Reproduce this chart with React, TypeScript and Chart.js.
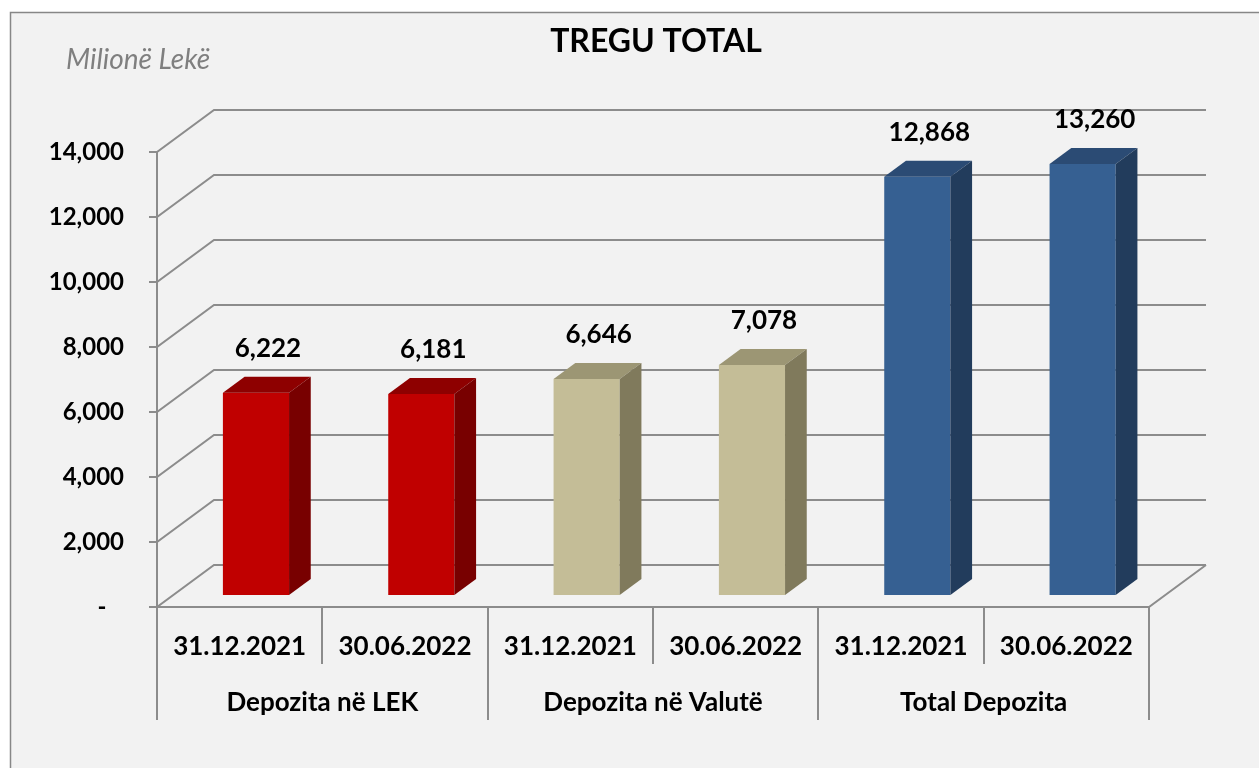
import React, { useEffect, useRef } from 'react';
import { Chart, registerables } from 'chart.js';

Chart.register(...registerables);

// ---- data ----
const CATEGORIES = ['31.12.2021', '30.06.2022', '31.12.2021', '30.06.2022', '31.12.2021', '30.06.2022'];
const GROUPS = ['Depozita në LEK', 'Depozita në Valutë', 'Total Depozita'];
const VALUES = [6222, 6181, 6646, 7078, 12868, 13260];
const Y_MIN = 0;
const Y_MAX = 14000;
const Y_STEP = 2000;
const TITLE = 'TREGU TOTAL';
const UNIT = 'Milionë Lekë';

// ---- styles ----
const FRONT = ['#c00000', '#c00000', '#c4bd97', '#c4bd97', '#366092', '#366092'];
const TOPC = ['#8e0000', '#8e0000', '#9c9674', '#9c9674', '#2b4b74', '#2b4b74'];
const SIDE = ['#780000', '#780000', '#807a5c', '#807a5c', '#223c5c', '#223c5c'];
const GRID = '#8c8c8c';
const FONT = 'Lato, "Open Sans", sans-serif';

const DX = 57; // wall depth x
const DY = 42; // wall depth y
const BAR_FRONT = 0.286;
const BAR_BACK = 0.667;

const fmt = (v: number) => v.toLocaleString('en-US');

const threeD = {
  id: 'threeD',
  beforeDraw(chart: any) {
    const { ctx, width, height } = chart;
    ctx.save();
    ctx.fillStyle = '#ffffff';
    ctx.fillRect(0, 0, width, height);
    ctx.fillStyle = '#f2f2f2';
    ctx.fillRect(10, 12, width + 20, height + 20);
    ctx.strokeStyle = '#878787';
    ctx.lineWidth = 1.5;
    ctx.strokeRect(10.5, 12.5, width + 20, height + 20);
    // title & unit
    ctx.fillStyle = '#000';
    ctx.font = `bold 32px ${FONT}`;
    ctx.textAlign = 'center';
    ctx.textBaseline = 'alphabetic';
    ctx.fillText(TITLE, 656, 52);
    ctx.fillStyle = '#7f7f7f';
    ctx.font = `italic 28px ${FONT}`;
    ctx.textAlign = 'left';
    ctx.fillText(UNIT, 66, 69);
    ctx.restore();
  },
  beforeDatasetsDraw(chart: any) {
    const { ctx, chartArea: a, scales } = chart;
    const x = scales.x;
    const y = scales.y;
    ctx.save();
    ctx.strokeStyle = GRID;
    ctx.lineWidth = 2;
    ctx.lineCap = 'butt';
    // back wall gridlines + side wall diagonals
    y.ticks.forEach((t: any) => {
      const py = Math.round(y.getPixelForValue(t.value));
      ctx.beginPath();
      ctx.moveTo(a.left - 8, py);
      ctx.lineTo(a.left, py);
      ctx.lineTo(a.left + DX, py - DY);
      ctx.lineTo(a.right + DX, py - DY);
      ctx.stroke();
    });
    // front vertical axis
    ctx.beginPath();
    ctx.moveTo(a.left, a.top);
    ctx.lineTo(a.left, a.bottom);
    ctx.stroke();
    // floor front edge + right diagonal
    ctx.beginPath();
    ctx.moveTo(a.left, a.bottom);
    ctx.lineTo(a.right, a.bottom);
    ctx.lineTo(a.right + DX, a.bottom - DY);
    ctx.stroke();
    // category dividers
    const half = (x.getPixelForValue(1) - x.getPixelForValue(0)) / 2;
    for (let i = 0; i <= CATEGORIES.length; i++) {
      const bx = i < CATEGORIES.length ? x.getPixelForValue(i) - half : x.getPixelForValue(i - 1) + half;
      const len = i % 2 === 0 ? 113 : 57;
      ctx.beginPath();
      ctx.moveTo(Math.round(bx), a.bottom);
      ctx.lineTo(Math.round(bx), a.bottom + len);
      ctx.stroke();
    }
    // group labels
    ctx.fillStyle = '#000';
    ctx.font = `bold 26px ${FONT}`;
    ctx.textAlign = 'center';
    ctx.textBaseline = 'alphabetic';
    GROUPS.forEach((g, gi) => {
      const cx = (x.getPixelForValue(gi * 2) + x.getPixelForValue(gi * 2 + 1)) / 2;
      ctx.fillText(g, cx, 711);
    });
    ctx.restore();
    // shift the bars' front faces into depth
    ctx.save();
    ctx.translate(BAR_FRONT * DX, -BAR_FRONT * DY);
  },
  afterDatasetsDraw(chart: any) {
    const { ctx } = chart;
    ctx.restore();
    const meta = chart.getDatasetMeta(0);
    const fx = BAR_FRONT * DX;
    const fy = -BAR_FRONT * DY;
    const ddx = (BAR_BACK - BAR_FRONT) * DX;
    const ddy = (BAR_BACK - BAR_FRONT) * DY;
    ctx.save();
    meta.data.forEach((el: any, i: number) => {
      const p = el.getProps(['x', 'y', 'base', 'width'], true);
      const l = p.x - p.width / 2 + fx;
      const r = p.x + p.width / 2 + fx;
      const t = p.y + fy;
      const b = p.base + fy;
      ctx.fillStyle = TOPC[i];
      ctx.beginPath();
      ctx.moveTo(l, t);
      ctx.lineTo(r, t);
      ctx.lineTo(r + ddx, t - ddy);
      ctx.lineTo(l + ddx, t - ddy);
      ctx.closePath();
      ctx.fill();
      ctx.fillStyle = SIDE[i];
      ctx.beginPath();
      ctx.moveTo(r, t);
      ctx.lineTo(r + ddx, t - ddy);
      ctx.lineTo(r + ddx, b - ddy);
      ctx.lineTo(r, b);
      ctx.closePath();
      ctx.fill();
      // value label
      ctx.fillStyle = '#000';
      ctx.font = `bold 26px ${FONT}`;
      ctx.textAlign = 'center';
      ctx.textBaseline = 'middle';
      ctx.fillText(fmt(VALUES[i]), p.x + fx + 12, t - 44);
    });
    ctx.restore();
  },
};

export default function App() {
  const ref = useRef<HTMLCanvasElement | null>(null);
  useEffect(() => {
    if (!ref.current) return;
    const chart = new Chart(ref.current, {
      type: 'bar',
      data: {
        labels: CATEGORIES,
        datasets: [
          {
            data: VALUES,
            backgroundColor: FRONT,
            borderWidth: 0,
            barPercentage: 0.4,
            categoryPercentage: 1,
            clip: false as any,
          },
        ],
      },
      options: {
        animation: false,
        responsive: false,
        devicePixelRatio: 1,
        layout: { padding: { top: 152, left: 0, right: 110, bottom: 0 } },
        plugins: {
          legend: { display: false },
          tooltip: { enabled: false },
          title: { display: false },
        },
        scales: {
          x: {
            grid: { display: false, drawTicks: false },
            border: { display: false },
            ticks: {
              color: '#000',
              font: { family: FONT, size: 26, weight: 'bold' },
              padding: 24,
              maxRotation: 0,
              autoSkip: false,
            },
            afterFit: (s: any) => {
              s.height = 161;
            },
          },
          y: {
            min: Y_MIN,
            max: Y_MAX,
            grid: { display: false, drawTicks: false },
            border: { display: false },
            ticks: {
              stepSize: Y_STEP,
              color: '#000',
              font: { family: FONT, size: 24, weight: 'bold' },
              padding: 33,
              callback: (v: any) => (Number(v) === 0 ? '-   ' : fmt(Number(v))),
            },
            afterFit: (s: any) => {
              s.width = 157;
            },
          },
        },
      },
      plugins: [threeD],
    });
    return () => chart.destroy();
  }, []);
  return (
    <div style={{ position: 'fixed', left: 0, top: 0, width: 1259, height: 768, overflow: 'hidden' }}>
      <canvas ref={ref} width={1259} height={768} style={{ display: 'block', width: 1259, height: 768 }} />
    </div>
  );
}
